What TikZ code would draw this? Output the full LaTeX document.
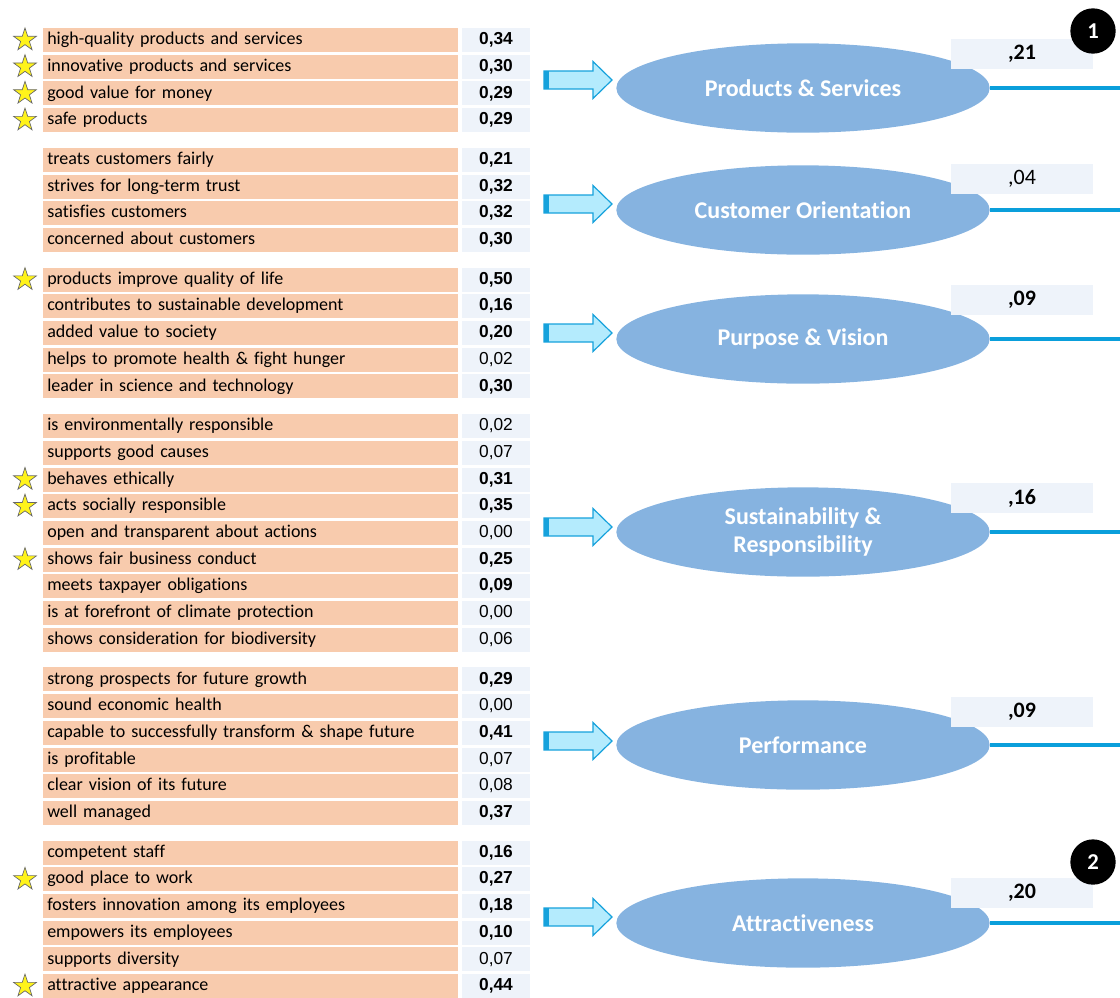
\documentclass[tikz,border=0pt]{standalone}
\usepackage{fontspec}
\setmainfont{Carlito}[Ligatures=NoCommon]
\newfontfamily\arialfont{Liberation Sans}
\usepackage{xcolor}
\usetikzlibrary{positioning,shapes.geometric}

\definecolor{peach}{HTML}{F8CBAD}
\definecolor{valbg}{HTML}{EEF3FA}
\definecolor{factorblue}{HTML}{86B3E0}
\definecolor{linkblue}{HTML}{0A9FDB}
\definecolor{arrowfill}{HTML}{B4EBFD}
\definecolor{arrowline}{HTML}{16A2DC}

% 一行: 名称, y, 文字, 数值, 数值样式
\newcommand{\attrrow}[5]{%
  \node[lbl] (#1) at (43,#2) {#3};
  \node[val,#5] (#1v) at (496,#2) {#4};}
% 星号
\newcommand{\goodmark}[1]{\node[goodstar] (#1s) at (25,0 |- #1) {};}
% 输入箭头
\newcommand{\inarrow}[2]{%
  \coordinate (#1) at (544,#2);
  \filldraw[blockarrow] (#1) ++(0,-9) -- ++(49,0) -- ++(0,-9.5) -- ++(19,18.5)
    -- ++(-19,18.5) -- ++(0,-9.5) -- ++(-49,0) -- cycle;
  \fill[arrowline] (#1) ++(0,-9) rectangle ++(5,18);}

\begin{document}
\begin{tikzpicture}[x=0.75pt,y=-0.75pt,
    lbl/.style={anchor=west,fill=peach,text width=305pt,inner xsep=3pt,inner ysep=0pt,
      minimum height=18pt,text height=9.5pt,text depth=2.5pt,align=left,
      font=\fontsize{13.5}{15}\selectfont},
    val/.style={fill=valbg,minimum width=51pt,minimum height=18pt,inner sep=0pt,
      text height=9pt,text depth=2pt,font=\arialfont\fontsize{13}{15}\selectfont},
    sig/.style={font=\arialfont\bfseries\fontsize{13}{15}\selectfont},
    ns/.style={},
    goodstar/.style={star,star points=5,star point ratio=2.6,minimum size=18pt,inner sep=0pt,
      fill=yellow!90!white,draw=gray!80!black,line width=0.5pt},
    factor/.style={ellipse,fill=factorblue,minimum width=280pt,minimum height=67pt,
      inner sep=0pt,align=center,text=white,font=\bfseries\fontsize{18}{21}\selectfont},
    coef/.style={fill=valbg,minimum width=106pt,minimum height=23pt,inner sep=0pt,
      font=\bfseries\fontsize{16.5}{18}\selectfont},
    badge/.style={circle,fill=black,text=white,minimum size=34pt,inner sep=0pt,
      font=\bfseries\fontsize{17}{19}\selectfont},
    blockarrow/.style={fill=arrowfill,draw=arrowline,line width=0.9pt,line join=miter},
    link/.style={draw=linkblue,line width=2.3pt}]

  \useasboundingbox (0,0) rectangle (1120,997);

  % 产品与服务
  \attrrow{a1}{40}{high-quality products and services}{0,34}{sig}
  \attrrow{a2}{66.7}{innovative products and services}{0,30}{sig}
  \attrrow{a3}{93.4}{good value for money}{0,29}{sig}
  \attrrow{a4}{120.1}{safe products}{0,29}{sig}
  \goodmark{a1}\goodmark{a2}\goodmark{a3}\goodmark{a4}

  % 客户导向
  \attrrow{b1}{159.8}{treats customers fairly}{0,21}{sig}
  \attrrow{b2}{186.5}{strives for long-term trust}{0,32}{sig}
  \attrrow{b3}{213.2}{satisfies customers}{0,32}{sig}
  \attrrow{b4}{239.9}{concerned about customers}{0,30}{sig}

  % 宗旨与愿景
  \attrrow{c1}{279.6}{products improve quality of life}{0,50}{sig}
  \attrrow{c2}{306.3}{contributes to sustainable development}{0,16}{sig}
  \attrrow{c3}{333}{added value to society}{0,20}{sig}
  \attrrow{c4}{359.7}{helps to promote health \& fight hunger}{0,02}{ns}
  \attrrow{c5}{386.4}{leader in science and technology}{0,30}{sig}
  \goodmark{c1}

  % 可持续与责任
  \attrrow{d1}{426.1}{is environmentally responsible}{0,02}{ns}
  \attrrow{d2}{452.8}{supports good causes}{0,07}{ns}
  \attrrow{d3}{479.5}{behaves ethically}{0,31}{sig}
  \attrrow{d4}{506.2}{acts socially responsible}{0,35}{sig}
  \attrrow{d5}{532.9}{open and transparent about actions}{0,00}{ns}
  \attrrow{d6}{559.6}{shows fair business conduct}{0,25}{sig}
  \attrrow{d7}{586.3}{meets taxpayer obligations}{0,09}{sig}
  \attrrow{d8}{613}{is at forefront of climate protection}{0,00}{ns}
  \attrrow{d9}{639.7}{shows consideration for biodiversity}{0,06}{ns}
  \goodmark{d3}\goodmark{d4}\goodmark{d6}

  % 业绩
  \attrrow{e1}{679.4}{strong prospects for future growth}{0,29}{sig}
  \attrrow{e2}{706.1}{sound economic health}{0,00}{ns}
  \attrrow{e3}{732.8}{capable to successfully transform \& shape future}{0,41}{sig}
  \attrrow{e4}{759.5}{is profitable}{0,07}{ns}
  \attrrow{e5}{786.2}{clear vision of its future}{0,08}{ns}
  \attrrow{e6}{812.9}{well managed}{0,37}{sig}

  % 吸引力
  \attrrow{f1}{852.6}{competent staff}{0,16}{sig}
  \attrrow{f2}{879.3}{good place to work}{0,27}{sig}
  \attrrow{f3}{906}{fosters innovation among its employees}{0,18}{sig}
  \attrrow{f4}{932.7}{empowers its employees}{0,10}{sig}
  \attrrow{f5}{959.4}{supports diversity}{0,07}{ns}
  \attrrow{f6}{986.1}{attractive appearance}{0,44}{sig}
  \goodmark{f2}\goodmark{f6}

  % 箭头
  \inarrow{ain}{80}
  \inarrow{bin}{204}
  \inarrow{cin}{333}
  \inarrow{din}{527}
  \inarrow{ein}{741}
  \inarrow{fin}{917}

  % 椭圆与连线
  \node[factor] (ps) at (803,88) {Products \& Services};
  \node[factor] (co) at (803,210) {Customer Orientation};
  \node[factor] (pv) at (803,339) {Purpose \& Vision};
  \node[factor] (sr) at (803,532) {Sustainability \&\\Responsibility};
  \node[factor] (pf) at (803,745) {Performance};
  \node[factor] (at) at (803,923) {Attractiveness};

  \coordinate (psr) at (1120,88);
  \coordinate (cor) at (1120,210);
  \coordinate (pvr) at (1120,339);
  \coordinate (srr) at (1120,532);
  \coordinate (pfr) at (1120,745);
  \coordinate (atr) at (1120,923);
  \draw[link] (ps.east) -- (psr);
  \draw[link] (co.east) -- (cor);
  \draw[link] (pv.east) -- (pvr);
  \draw[link] (sr.east) -- (srr);
  \draw[link] (pf.east) -- (pfr);
  \draw[link] (at.east) -- (atr);

  % 系数
  \node[coef] (psc) at (1022,54) {,21};
  \node[coef,font=\fontsize{16.5}{18}\selectfont] (coc) at (1022,179) {,04};
  \node[coef] (pvc) at (1022,300) {,09};
  \node[coef] (src) at (1022,498) {,16};
  \node[coef] (pfc) at (1022,712) {,09};
  \node[coef] (atc) at (1022,893) {,20};

  % 编号
  \node[badge] (n1) at (1093,31) {1};
  \node[badge] (n2) at (1093,862) {2};
\end{tikzpicture}
\end{document}
